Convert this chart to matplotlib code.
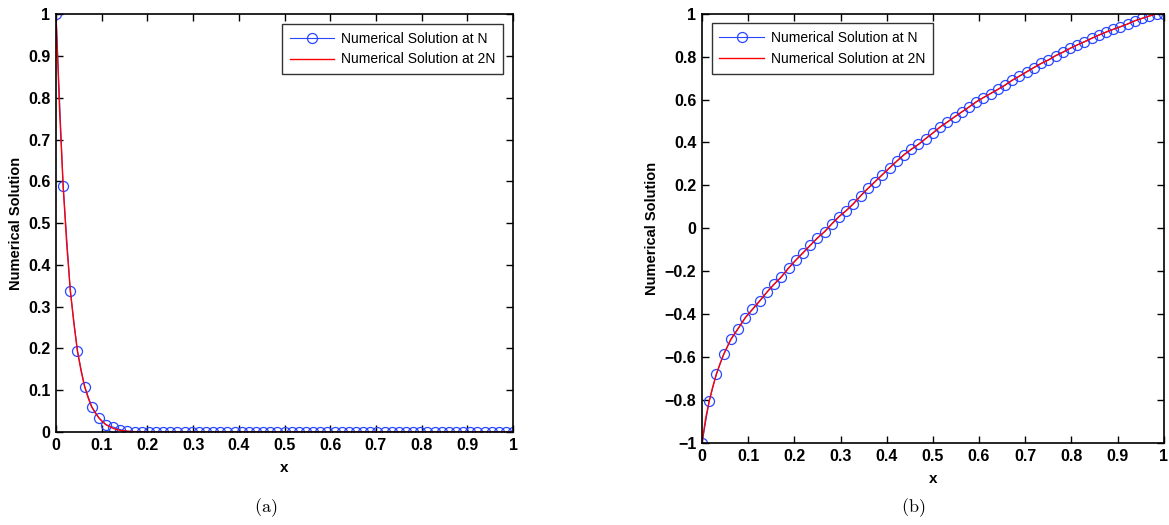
import numpy as np
import matplotlib
matplotlib.use("Agg")
import matplotlib.pyplot as plt
from matplotlib.ticker import FuncFormatter

plt.rcParams['font.family'] = ['Liberation Sans', 'DejaVu Sans']
plt.rcParams['mathtext.fontset'] = 'cm'

# mesh with N = 64 intervals
N = 64
x_n = np.linspace(0, 1, N + 1)

# panel (a): solution at N
ya_n = [1.0, 0.589, 0.338, 0.193, 0.109, 0.061, 0.034, 0.017, 0.012, 0.006,
        0.002, 0.001, 0.001, 0.0, 0.0, 0.0, 0.0, 0.0, 0.0, 0.0,
        0.0, 0.0, 0.0, 0.0, 0.0, 0.0, 0.0, 0.0, 0.0, 0.0,
        0.0, 0.0, 0.0, 0.0, 0.0, 0.0, 0.0, 0.0, 0.0, 0.0,
        0.0, 0.0, 0.0, 0.0, 0.0, 0.0, 0.0, 0.0, 0.0, 0.0,
        0.0, 0.0, 0.0, 0.0, 0.0, 0.0, 0.0, 0.0, 0.0, 0.0,
        0.0, 0.0, 0.0, 0.0, 0.0]

# panel (a): solution at 2N (read at selected mesh points)
xa_2n = [0.0, 0.0078, 0.0156, 0.0234, 0.0313, 0.0391, 0.0469, 0.0547, 0.0625,
         0.0703, 0.0781, 0.0859, 0.0938, 0.1016, 0.1094, 0.1172, 0.125,
         0.1328, 0.1406, 0.1484, 0.1563, 0.1719, 0.2031, 1.0]
ya_2n = [1.0, 0.77, 0.59, 0.45, 0.34, 0.26, 0.195, 0.147, 0.11,
         0.082, 0.060, 0.046, 0.034, 0.025, 0.018, 0.013, 0.009,
         0.006, 0.004, 0.003, 0.002, 0.001, 0.0, 0.0]

# panel (b): solution at N
yb_n = [-1.0, -0.805, -0.678, -0.587, -0.517, -0.467, -0.416, -0.377, -0.338, -0.297,
        -0.260, -0.226, -0.185, -0.148, -0.114, -0.079, -0.045, -0.015, 0.021, 0.055,
        0.083, 0.115, 0.152, 0.186, 0.218, 0.250, 0.282, 0.313, 0.343, 0.368,
        0.391, 0.418, 0.444, 0.472, 0.495, 0.519, 0.542, 0.565, 0.589, 0.609,
        0.628, 0.647, 0.667, 0.690, 0.709, 0.729, 0.749, 0.768, 0.784, 0.804,
        0.820, 0.838, 0.854, 0.869, 0.885, 0.900, 0.914, 0.927, 0.939, 0.952,
        0.967, 0.978, 0.989, 0.999, 1.0]

# panel (b): solution at 2N (extra points near the left boundary)
xb_2n_head = [0.0, 0.0078, 0.0156, 0.0234, 0.0313, 0.0391, 0.0469]
yb_2n_head = [-1.0, -0.885, -0.805, -0.737, -0.678, -0.630, -0.587]

xb_2n = np.concatenate([xb_2n_head, x_n[4:]])
yb_2n = np.concatenate([yb_2n_head, yb_n[4:]])

ticks_01 = [0, 0.1, 0.2, 0.3, 0.4, 0.5, 0.6, 0.7, 0.8, 0.9, 1]
ticks_pm1 = [-1, -0.8, -0.6, -0.4, -0.2, 0, 0.2, 0.4, 0.6, 0.8, 1]


def fmt(v, pos):
    v = round(v, 6)
    s = '%g' % abs(v)
    return ('\u2212' + s) if v < 0 else s


fig = plt.figure(figsize=(11.69, 5.25), dpi=100)
ax1 = fig.add_axes([0.0479, 0.177, 0.391, 0.796])
ax2 = fig.add_axes([0.6005, 0.156, 0.395, 0.818])

blue = '#2848ff'
red = '#ff0000'

ax1.plot(x_n, ya_n, '-o', color=blue, lw=0.8, ms=7.2, mfc='none', mec=blue, mew=0.9,
         label='Numerical Solution at N')
ax1.plot(xa_2n, ya_2n, '-', color=red, lw=1.0, label='Numerical Solution at 2N')

ax2.plot(x_n, yb_n, '-o', color=blue, lw=0.8, ms=7.2, mfc='none', mec=blue, mew=0.9,
         label='Numerical Solution at N')
ax2.plot(xb_2n, yb_2n, '-', color=red, lw=1.0, label='Numerical Solution at 2N')

for ax, yt, ylim in [(ax1, ticks_01, (0, 1)), (ax2, ticks_pm1, (-1, 1))]:
    ax.set_xlim(0, 1)
    ax.set_ylim(*ylim)
    ax.set_xticks(ticks_01)
    ax.set_yticks(yt)
    ax.xaxis.set_major_formatter(FuncFormatter(fmt))
    ax.yaxis.set_major_formatter(FuncFormatter(fmt))
    ax.tick_params(direction='in', length=5, width=1, top=True, right=True,
                   labelsize=11.5, pad=4)
    for lab in ax.get_xticklabels() + ax.get_yticklabels():
        lab.set_fontweight('bold')
    for s in ax.spines.values():
        s.set_linewidth(1.2)
    ax.set_xlabel('x', fontsize=11, fontweight='bold', labelpad=6)
    ax.set_ylabel('Numerical Solution', fontsize=10.5, fontweight='bold', labelpad=4)
    leg = ax.legend(fontsize=10, frameon=True, fancybox=False, edgecolor='black',
                    borderpad=0.55, handlelength=3.2, handletextpad=0.5,
                    labelspacing=0.5, borderaxespad=0.7,
                    loc='upper right' if ax is ax1 else 'upper left')
    leg.get_frame().set_linewidth(1.0)

fig.text(0.227, 0.025, r'$\mathrm{(a)}$', fontsize=13, ha='center')
fig.text(0.781, 0.025, r'$\mathrm{(b)}$', fontsize=13, ha='center')

fig.savefig('out.png', dpi=100)
